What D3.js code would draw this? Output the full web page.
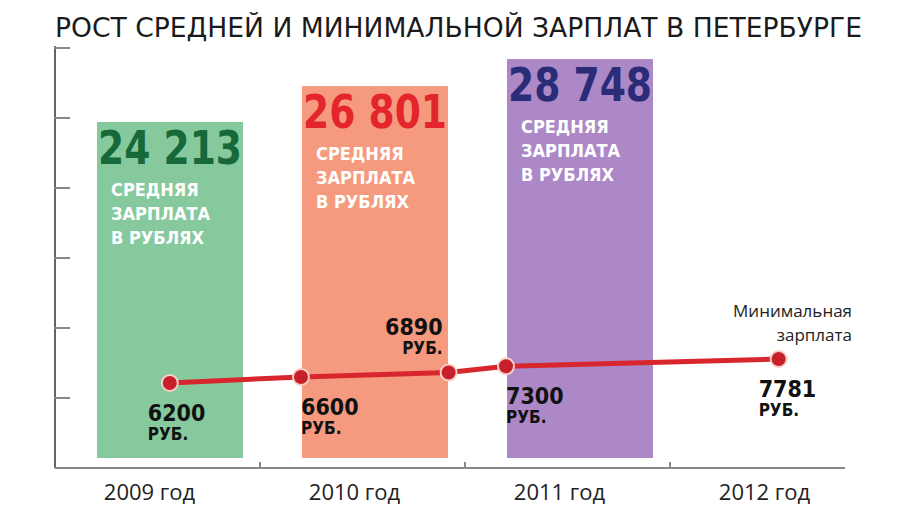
<!DOCTYPE html>
<html><head><meta charset="utf-8">
<script src="https://cdn.jsdelivr.net/npm/d3@7"></script>
<style>body{margin:0;background:#fff}</style>
</head><body>
<svg id="chart" width="900" height="506"></svg>
<script>
// data
var years = ["2009 год", "2010 год", "2011 год", "2012 год"];
var avgSalary = [24213, 26801, 28748];
var avgLabels = ["24 213", "26 801", "28 748"];
var barColors = ["#86c99d", "#f59a7e", "#ad88c6"];
var numColors = ["#17693a", "#e4252b", "#2b2c78"];
var minPos = [0.56, 1.2, 1.92, 2.2, 3.53];
var minSalary = [6200, 6600, 6890, 7300, 7781];
var minAbove = [false, false, true, false, false];

var svg = d3.select("#chart");
var font = "'DejaVu Sans Condensed', 'DejaVu Sans', sans-serif";

var x = d3.scaleBand().domain(years).range([55, 875]);
var xl = d3.scaleLinear().domain([0, 4]).range([55, 875]);
var y = d3.scaleLinear().domain([0, 24213]).range([458, 122]);
var yMin = d3.scaleLinear().domain([6200, 7781]).range([383, 359]);

// title
svg.append("text").attr("x", 55).attr("y", 37)
	.attr("textLength", 807).attr("lengthAdjust", "spacingAndGlyphs")
	.style("font-family", font).style("font-size", "27px").attr("fill", "#1a1a1a")
	.text("РОСТ СРЕДНЕЙ И МИНИМАЛЬНОЙ ЗАРПЛАТ В ПЕТЕРБУРГЕ");

// axes
svg.append("line").attr("x1", 55).attr("x2", 55).attr("y1", 46).attr("y2", 468).attr("stroke", "#666").attr("stroke-width", 2);
svg.append("line").attr("x1", 55).attr("x2", 845).attr("y1", 468).attr("y2", 468).attr("stroke", "#888").attr("stroke-width", 2);
d3.range(0, 6).forEach(function(i) {
	var ty = 48 + i * 70;
	svg.append("line").attr("x1", 54).attr("x2", 70).attr("y1", ty).attr("y2", ty).attr("stroke", "#888").attr("stroke-width", 2);
});
years.slice(1).forEach(function(d) {
	svg.append("line").attr("x1", x(d)).attr("x2", x(d)).attr("y1", 462).attr("y2", 468).attr("stroke", "#888").attr("stroke-width", 2);
});
years.forEach(function(d) {
	svg.append("text").attr("x", x(d) + x.bandwidth() / 2 - 8).attr("y", 500)
		.attr("text-anchor", "middle").style("font-family", "'Open Sans', sans-serif")
		.style("font-size", "22px").attr("fill", "#222").text(d);
});

// bars
avgSalary.forEach(function(v, i) {
	var bx = x(years[i]) + 42;
	var top = y(v);
	svg.append("rect").attr("x", bx).attr("y", top).attr("width", 146).attr("height", y(0) - top).attr("fill", barColors[i]);
	svg.append("text").attr("x", bx + 1).attr("y", top + 42)
		.attr("textLength", 144).attr("lengthAdjust", "spacingAndGlyphs")
		.style("font-family", font).style("font-weight", "bold").style("font-size", "46px")
		.attr("fill", numColors[i]).text(avgLabels[i]);
	["СРЕДНЯЯ", "ЗАРПЛАТА", "В РУБЛЯХ"].forEach(function(t, j) {
		svg.append("text").attr("x", bx + 14).attr("y", top + 74 + j * 24)
			.style("font-family", font).style("font-weight", "bold").style("font-size", "18px")
			.attr("fill", "#fff").text(t);
	});
});

// minimal salary line
var line = d3.line().x(function(d, i) { return xl(minPos[i]); }).y(function(d) { return yMin(d); });
svg.append("path").datum(minSalary).attr("d", line).attr("fill", "none").attr("stroke", "#d8262e").attr("stroke-width", 5);
minSalary.forEach(function(v, i) {
	var px = xl(minPos[i]), py = yMin(v);
	svg.append("circle").attr("cx", px).attr("cy", py).attr("r", 8).attr("fill", "#c8202a").attr("stroke", "#f7d0c8").attr("stroke-width", 2);
	var g = svg.append("g").style("font-family", font).style("font-weight", "bold").attr("fill", "#111");
	var tx = minAbove[i] ? px - 6 : px - (i == 0 ? 22 : i == 4 ? 20 : 0);
	var ty = minAbove[i] ? py - 38 : py + 38;
	var anchor = minAbove[i] ? "end" : "start";
	g.append("text").attr("x", tx).attr("y", ty).attr("text-anchor", anchor).style("font-size", "23px").text(v);
	g.append("text").attr("x", tx).attr("y", ty + 19).attr("text-anchor", anchor).style("font-size", "17px").text("РУБ.");
});

svg.append("text").attr("x", 852).attr("y", 317).attr("text-anchor", "end")
	.style("font-family", "'Open Sans', sans-serif").style("font-size", "17px").attr("fill", "#222").text("Минимальная");
svg.append("text").attr("x", 852).attr("y", 341).attr("text-anchor", "end")
	.style("font-family", "'Open Sans', sans-serif").style("font-size", "17px").attr("fill", "#222").text("зарплата");
</script>
</body></html>
